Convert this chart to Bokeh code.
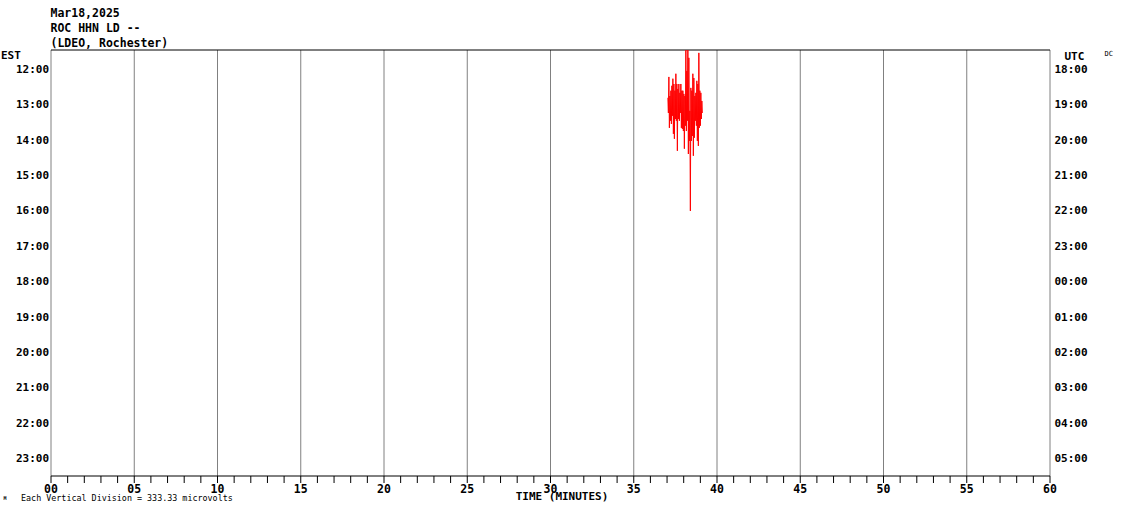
import numpy as np
from bokeh.plotting import figure
from bokeh.models import Range1d
from bokeh.core.properties import value
from bokeh.embed import file_html
from bokeh.resources import INLINE

# ---------------- data ----------------
est_hours = ["12:00", "13:00", "14:00", "15:00", "16:00", "17:00",
             "18:00", "19:00", "20:00", "21:00", "22:00", "23:00"]
utc_hours = ["18:00", "19:00", "20:00", "21:00", "22:00", "23:00",
             "00:00", "01:00", "02:00", "03:00", "04:00", "05:00"]
minute_ticks = [0, 5, 10, 15, 20, 25, 30, 35, 40, 45, 50, 55, 60]
minute_labels = ["00", "05", "10", "15", "20", "25", "30",
                 "35", "40", "45", "50", "55", "60"]
minor_minutes = list(range(0, 61))
header_lines = ["Mar18,2025", "ROC HHN LD --", "(LDEO, Rochester)"]
scale_note = "Each Vertical Division =  333.33 microvolts"

# seismic trace on the 13:00 EST line, in vertical divisions (down = positive)
trace_row = 1
trace_start_min = 37.05
trace_step_min = 0.03
trace_div = [
    -0.20, 0.23, -0.79, 0.65, -0.25, 0.45, -0.40, 0.54, -0.54, 0.31,
    -0.74, 0.82, -0.59, 0.96, -0.40, 0.40, -0.88, 0.45, -0.59, 1.30,
    -0.45, 0.40, -0.59, 0.45, -0.34, 0.23, -0.59, 0.65, -0.40, 0.68,
    -0.40, 0.74, -0.31, 1.24, -0.25, 0.59, -1.55, 0.74, -0.96, 0.45,
    -1.55, 1.39, -1.33, 1.02, 0.17, 3.00, -0.48, 1.02, -0.40, 0.88,
    -0.88, 1.44, -0.76, 0.93, -0.25, 0.45, -0.34, 0.59, -0.68, 1.02,
    -0.59, 1.16, -1.47, 0.65, -0.40, 0.59, -0.34, 0.40, -0.11, 0.23,
]

# ---------------- layout (pixels) ----------------
W, H = 1114, 503
PX_PER_MIN = 16.65      # 60 minutes across 999 px
X0_PX = 50.5            # pixel of minute 0
PX_PER_ROW = 35.36      # one hour line per division
Y0_PX = 69.0            # pixel of the first hour line

def mx(px):
    return (px - X0_PX) / PX_PER_MIN

def ry(py):
    return (py - Y0_PX) / PX_PER_ROW

ROW_TOP = ry(49.5)
ROW_BOT = ry(475.5)
TICK_LEN = 7 / PX_PER_ROW

FONT = value("DejaVu Sans Mono")

p = figure(width=W, height=H,
           x_range=Range1d(mx(0), mx(W)), y_range=Range1d(ry(H), ry(0)),
           x_axis_type=None, y_axis_type=None,
           output_backend="svg", toolbar_location=None, min_border=0)
p.outline_line_color = None
p.background_fill_color = "white"
p.border_fill_color = "white"
p.xgrid.visible = False
p.ygrid.visible = False

# vertical grid every 5 minutes
p.segment(x0=minute_ticks, y0=ROW_TOP, x1=minute_ticks, y1=ROW_BOT,
          line_color="#808080", line_width=1)
# top frame line and bottom time axis line
p.segment(x0=[0, 0], y0=[ROW_TOP, ROW_BOT], x1=[60, 60], y1=[ROW_TOP, ROW_BOT],
          line_color="black", line_width=1)
# minute ticks
p.segment(x0=minor_minutes, y0=ROW_BOT, x1=minor_minutes, y1=ROW_BOT + TICK_LEN,
          line_color="black", line_width=1)

# minute labels
p.text(x=minute_ticks, y=ry(487.5), text=minute_labels, text_font=FONT,
       text_font_size="11.5px", text_font_style="bold", text_color="black",
       text_align="center", text_baseline="middle")

rows = list(range(len(est_hours)))
p.text(x=mx(48.5), y=rows, text=est_hours, text_font=FONT,
       text_font_size="11px", text_font_style="bold", text_color="black",
       text_align="right", text_baseline="middle")
p.text(x=mx(1054), y=rows, text=utc_hours, text_font=FONT,
       text_font_size="11px", text_font_style="bold", text_color="black",
       text_align="left", text_baseline="middle")

# trace
t = trace_start_min + trace_step_min * np.arange(len(trace_div))
y = trace_row + np.array(trace_div)
p.line(t, y, line_color="red", line_width=1)

# other texts
def add_text(px, py, text, size, bold=True, align="left"):
    p.text(x=[mx(px)], y=[ry(py)], text=[text], text_font=FONT,
           text_font_size=size, text_font_style="bold" if bold else "normal",
           text_color="black", text_align=align, text_baseline="middle")

for i, line in enumerate(header_lines):
    add_text(50, 12.5 + 15 * i, line, "11.5px")
add_text(0.5, 55, "EST", "11px")
add_text(1064, 56, "UTC", "11px")
add_text(1104, 53, "DC", "7px", bold=False)
add_text(561.5, 495.5, "TIME (MINUTES)", "11px", align="center")
add_text(20.5, 497, scale_note, "8.4px", bold=False)
add_text(3, 497.5, "M", "5px")

open("out.html", "w").write(file_html(p, INLINE))
